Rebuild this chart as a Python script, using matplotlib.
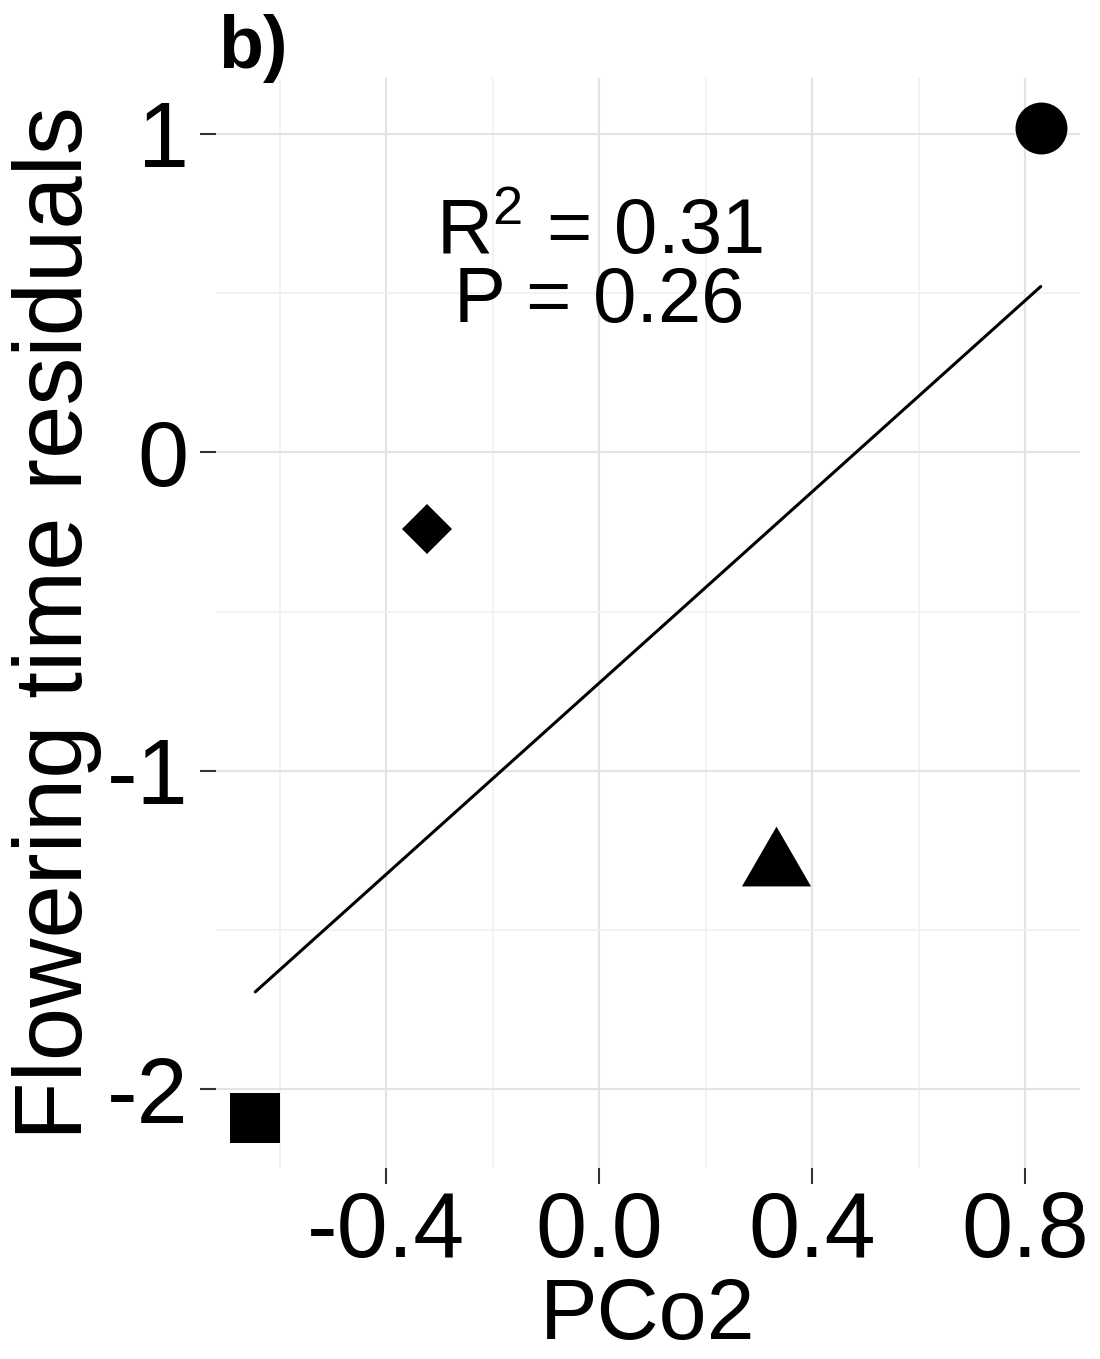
import numpy as np
import matplotlib
matplotlib.use("Agg")
import matplotlib.pyplot as plt
from matplotlib.ticker import MultipleLocator, FormatStrFormatter
from matplotlib.path import Path

plt.rcParams['font.family'] = ['Liberation Sans', 'DejaVu Sans']
plt.rcParams['axes.unicode_minus'] = False
plt.rcParams['mathtext.fontset'] = 'custom'
plt.rcParams['mathtext.rm'] = 'Liberation Sans'
plt.rcParams['mathtext.it'] = 'Liberation Sans'

# data
pco2 = [0.829, -0.324, 0.332, -0.646]
residuals = [1.019, -0.240, -1.298, -2.091]
shapes = ['circle', 'diamond', 'triangle', 'square']
x_ticks = [-0.4, 0.0, 0.4, 0.8]
y_ticks = [-2, -1, 0, 1]
r2_text = "R$^2$ = 0.31"
p_text = "P = 0.26"

tri = Path([(0, 1), (-0.866, -0.5), (0.866, -0.5), (0, 1)],
           [Path.MOVETO, Path.LINETO, Path.LINETO, Path.CLOSEPOLY])
marker_style = {
    'circle': dict(marker='o', ms=37.4),
    'diamond': dict(marker='D', ms=25.5),
    'triangle': dict(marker=tri, ms=57.4),
    'square': dict(marker='s', ms=36.7),
}

fig = plt.figure(figsize=(11, 13.59), dpi=100)
ax = fig.add_axes([216/1100, 191/1359, 864/1100, 1090/1359])

for sp in ax.spines.values():
    sp.set_visible(False)

# regression line
coef = np.polyfit(pco2, residuals, 1)
xs = np.array([min(pco2), max(pco2)])
ax.plot(xs, np.polyval(coef, xs), color='black', lw=2.2, solid_capstyle='round', zorder=3)

for xv, yv, sh in zip(pco2, residuals, shapes):
    ax.plot([xv], [yv], linestyle='none', color='black', mec='black', mew=0,
            zorder=4, **marker_style[sh])

xr = max(pco2) - min(pco2)
yr = max(residuals) - min(residuals)
ax.set_xlim(min(pco2) - 0.05 * xr, max(pco2) + 0.05 * xr)
ax.set_ylim(min(residuals) - 0.05 * yr, max(residuals) + 0.05 * yr)

ax.xaxis.set_major_locator(plt.FixedLocator(x_ticks))
ax.yaxis.set_major_locator(plt.FixedLocator(y_ticks))
ax.xaxis.set_minor_locator(MultipleLocator(0.2))
ax.yaxis.set_minor_locator(MultipleLocator(0.5))
ax.xaxis.set_major_formatter(FormatStrFormatter('%.1f'))
ax.yaxis.set_major_formatter(FormatStrFormatter('%d'))

ax.grid(which='major', color='#e3e3e3', lw=1.5, zorder=0)
ax.grid(which='minor', color='#f0f0f0', lw=1.2, zorder=0)
ax.set_axisbelow(True)

ax.tick_params(which='major', length=11.5, width=1.5, color='#333333',
               labelsize=66, labelcolor='black')
ax.tick_params(axis='x', which='major', pad=4)
ax.tick_params(axis='y', which='major', pad=8)
ax.tick_params(which='minor', length=0)

ax.set_xlabel('PCo2', fontsize=62, va='bottom')
ax.xaxis.set_label_coords(0.5, (1168 - 1357) / 1090)
ax.set_ylabel('Flowering time residuals', fontsize=69)
ax.yaxis.set_label_coords(-0.132, 0.5)

ax.text(0.0, 0.623, r2_text, fontsize=56, ha='center', va='baseline', zorder=5)
ax.text(0.0, 0.410, p_text, fontsize=56, ha='center', va='baseline', zorder=5)

fig.text(218/1100, 1 - 14/1359, 'b)', fontsize=53, fontweight='bold', va='top', ha='left')

fig.savefig('out.png', dpi=100)
